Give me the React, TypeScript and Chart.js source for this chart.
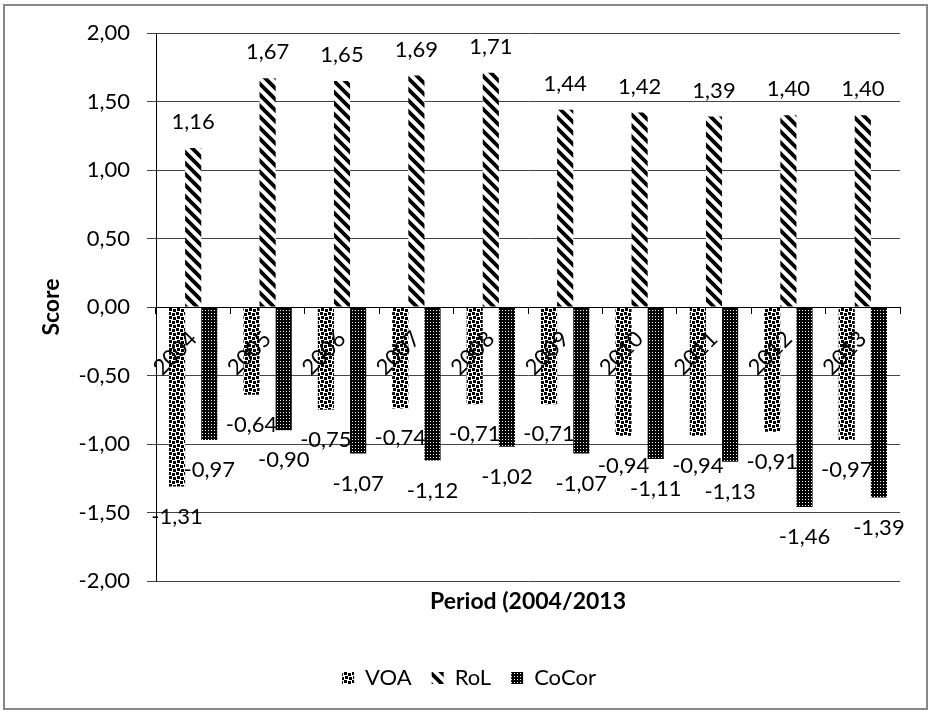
import React, { useEffect, useRef } from "react";
import { Chart, registerables } from "chart.js";

Chart.register(...registerables);

const categories = ["2004", "2005", "2006", "2007", "2008", "2009", "2010", "2011", "2012", "2013"];
const voaValues = [-1.31, -0.64, -0.75, -0.74, -0.71, -0.71, -0.94, -0.94, -0.91, -0.97];
const rolValues = [1.16, 1.67, 1.65, 1.69, 1.71, 1.44, 1.42, 1.39, 1.4, 1.4];
const cocorValues = [-0.97, -0.9, -1.07, -1.12, -1.02, -1.07, -1.11, -1.13, -1.46, -1.39];
const seriesNames = ["VOA", "RoL", "CoCor"];
const yTicks = [-2, -1.5, -1, -0.5, 0, 0.5, 1, 1.5, 2];

const FONT = "Lato";
const fmt = (v: number) => v.toFixed(2).replace(".", ",");

function makeTile(size: number, draw: (c: CanvasRenderingContext2D) => void): CanvasPattern | string {
  const cv = document.createElement("canvas");
  cv.width = size;
  cv.height = size;
  const c = cv.getContext("2d");
  if (!c) return "#000";
  c.fillStyle = "#fff";
  c.fillRect(0, 0, size, size);
  draw(c);
  const p = c.createPattern(cv, "repeat");
  return p || "#000";
}

function voaPattern() {
  return makeTile(8, (c) => {
    c.fillStyle = "#000";
    c.fillRect(0, 0, 3, 3);
    c.fillRect(4, 1, 3, 3);
    c.fillRect(1, 4, 3, 3);
    c.fillRect(5, 5, 3, 3);
  });
}

function rolPattern() {
  return makeTile(11, (c) => {
    c.strokeStyle = "#000";
    c.lineWidth = 3.8;
    c.beginPath();
    for (let k = -1; k <= 1; k++) {
      c.moveTo(k * 11 - 2, -2);
      c.lineTo(k * 11 + 13, 13);
    }
    c.stroke();
  });
}

function cocorPattern() {
  return makeTile(3, (c) => {
    c.fillStyle = "#000";
    c.fillRect(0, 0, 3, 3);
    c.fillStyle = "#fff";
    c.fillRect(1, 1, 1, 1);
  });
}

const valueLabels = {
  id: "valueLabels",
  afterDatasetsDraw(chart: any) {
    const ctx = chart.ctx;
    ctx.save();
    ctx.font = `22px ${FONT}`;
    ctx.fillStyle = "#000";
    ctx.textAlign = "center";
    ctx.textBaseline = "middle";
    chart.data.datasets.forEach((ds: any, di: number) => {
      const meta = chart.getDatasetMeta(di);
      meta.data.forEach((el: any, i: number) => {
        const v = ds.data[i] as number;
        ctx.fillText(fmt(v), el.x, v >= 0 ? el.y - 26 : el.y + 30);
      });
    });
    ctx.restore();
  },
};

export default function App() {
  const ref = useRef<HTMLCanvasElement | null>(null);

  useEffect(() => {
    document.body.style.margin = "0";
    const canvas = ref.current;
    if (!canvas) return;
    const chart = new Chart(canvas, {
      type: "bar",
      data: {
        labels: categories,
        datasets: [
          { label: seriesNames[0], data: voaValues, backgroundColor: voaPattern() as any, borderWidth: 0 },
          { label: seriesNames[1], data: rolValues, backgroundColor: rolPattern() as any, borderWidth: 0 },
          { label: seriesNames[2], data: cocorValues, backgroundColor: cocorPattern() as any, borderWidth: 0 },
        ],
      },
      options: {
        animation: false,
        responsive: true,
        maintainAspectRatio: false,
        layout: { padding: { left: 9, right: 0, top: 33, bottom: 14 } },
        datasets: { bar: { categoryPercentage: 0.65, barPercentage: 1 } },
        plugins: {
          legend: {
            display: true,
            position: "bottom",
            labels: {
              font: { family: FONT, size: 22 },
              color: "#000",
              boxWidth: 12,
              boxHeight: 12,
              padding: 20,
            },
          },
          tooltip: { enabled: false },
          title: { display: false },
        },
        scales: {
          x: {
            type: "category",
            position: { y: 0 } as any,
            grid: { display: true, drawOnChartArea: false, drawTicks: true, tickLength: 6, color: "#000", offset: true },
            border: { display: true, color: "#000", width: 1, z: 1 },
            ticks: {
              color: "#000",
              font: { family: FONT, size: 22 },
              minRotation: 45,
              maxRotation: 45,
              autoSkip: false,
              padding: 13,
              z: 2,
            },
          },
          x2: {
            type: "category",
            position: "bottom",
            labels: categories,
            grid: { display: false },
            border: { display: false },
            ticks: { display: false },
            title: {
              display: true,
              text: "Period (2004/2013",
              color: "#000",
              font: { family: FONT, size: 23, weight: "bold" },
              padding: { top: 0, bottom: 32 },
            },
            afterFit: (s: any) => {
              s.height = 66;
            },
          },
          y: {
            min: -2,
            max: 2,
            afterBuildTicks: (s: any) => {
              s.ticks = yTicks.map((v) => ({ value: v }));
            },
            grid: { color: "#444", lineWidth: 1, tickLength: 9, drawTicks: true },
            border: { display: true, color: "#000", width: 1 },
            ticks: {
              color: "#000",
              font: { family: FONT, size: 22 },
              padding: 17,
              callback: (v: any) => fmt(Number(v)),
            },
            title: {
              display: true,
              text: "Score",
              color: "#000",
              font: { family: FONT, size: 23, weight: "bold" },
              padding: { top: 29, bottom: 0 },
            },
            afterFit: (s: any) => {
              s.width = 147;
            },
          },
          yRight: {
            position: "right",
            display: true,
            grid: { display: false },
            border: { display: false },
            ticks: { display: false },
            afterFit: (s: any) => {
              s.width = 29;
            },
          },
        },
      } as any,
      plugins: [valueLabels],
    });
    return () => chart.destroy();
  }, []);

  return (
    <div style={{ position: "fixed", left: 0, top: 0, width: 929, height: 713, background: "#fff" }}>
      <div
        style={{
          position: "absolute",
          left: 3,
          top: 4,
          width: 921,
          height: 702,
          border: "2px solid #888",
        }}
      />
      <canvas ref={ref} style={{ position: "absolute", left: 0, top: 0, width: 929, height: 713 }} />
    </div>
  );
}
